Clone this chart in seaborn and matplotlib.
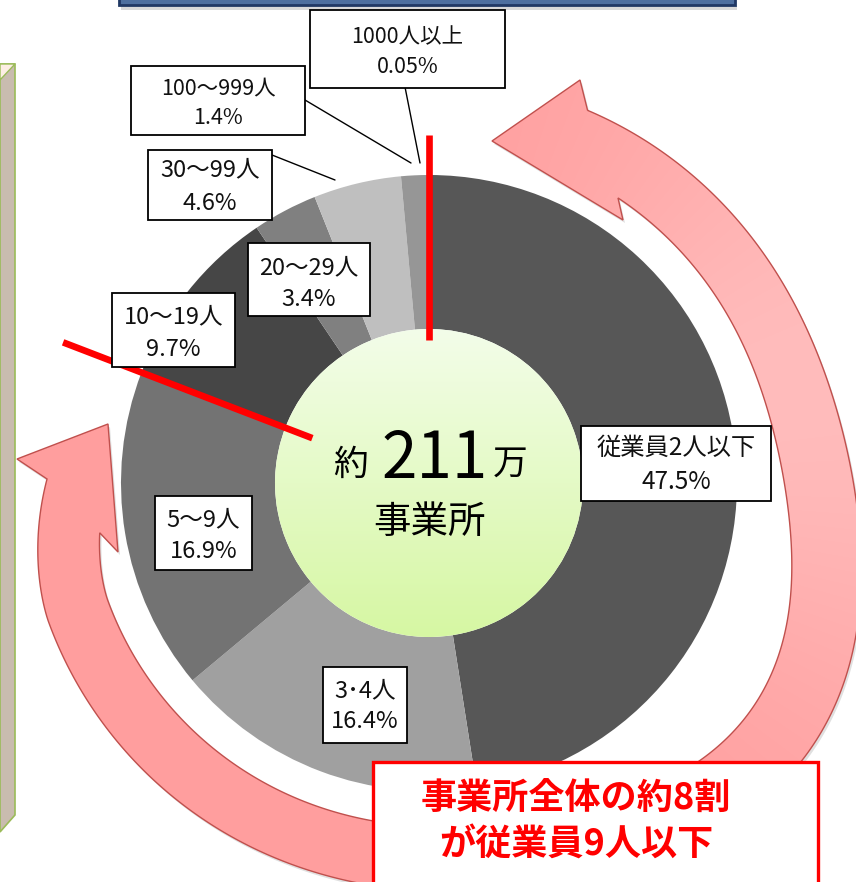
import numpy as np
import matplotlib
matplotlib.use('Agg')
import matplotlib.pyplot as plt
from matplotlib.patches import Rectangle, Circle, Polygon
from matplotlib.colors import to_rgb
import seaborn as sns

# data (clockwise from 12 o'clock)
categories = ['従業員2人以下', '3･4人', '5〜9人', '10〜19人', '20〜29人', '30〜99人', '100〜999人', '1000人以上']
shares = [47.5, 16.4, 16.9, 9.7, 3.4, 4.6, 1.4, 0.05]
share_text = ['47.5%', '16.4%', '16.9%', '9.7%', '3.4%', '4.6%', '1.4%', '0.05%']
total_text = '211'
n_small = 3   # the first three slices = 9人以下

greys = ['#575757', '#a0a0a0', '#737373', '#464646', '#808080', '#bfbfbf', '#969696', '#969696']

sns.set_theme(style='white')
plt.rcParams['font.family'] = ['Noto Sans CJK JP', 'DejaVu Sans']

W, H = 856, 882
CX, CY, R = 429, 483, 308

fig = plt.figure(figsize=(W / 100, H / 100), dpi=100)
ax = fig.add_axes([0, 0, 1, 1])


def pt(theta, r):
    # clockwise from top, y axis pointing down
    a = np.radians(theta)
    return CX + r * np.sin(a), CY - r * np.cos(a)


# ---- pink double arrow around the 9人以下 part ----
def r_outer(th):
    r = 405 + 60 * np.exp(-((th - 125) / 33) ** 2)
    return r - 23 * np.clip((th - 250) / 20.6, 0, 1) ** 1.5


def r_inner(th):
    r = 342 + 52 * np.exp(-((th - 125) / 30) ** 2)
    return r - 9 * np.clip((th - 250) / 11.4, 0, 1) ** 1.5


th_o = np.linspace(23.05, 270.6, 400)
th_i = np.linspace(261.4, 33.55, 400)
outer = [pt(t, r_outer(t)) for t in th_o]
inner = [pt(t, r_inner(t)) for t in th_i]
poly = outer + [(17, 459), (108, 424), (118, 552)] + inner + [(623, 220), (492, 141), (580, 80)]

shadow = Polygon([(x + 2, y + 3) for x, y in poly], closed=True, fc='#000000', alpha=0.12,
                 ec='none', zorder=0.8)
ax.add_patch(shadow)
clip = Polygon(poly, closed=True, fc='none', ec='none', transform=ax.transData)
ax.add_patch(clip)
yy, xx = np.mgrid[0:H, 0:W] + 0.5
ang = np.degrees(np.arctan2(xx - CX, CY - yy)) % 360
t = np.exp(-((ang - 75) / 45) ** 2)
dark, light = np.array(to_rgb('#ff9e9e')), np.array(to_rgb('#ffbcbc'))
im = ax.imshow(dark + t[..., None] * (light - dark), extent=(0, W, H, 0), origin='upper',
               zorder=1, interpolation='bilinear', aspect='auto')
im.set_clip_path(clip)
ax.add_patch(Polygon(poly, closed=True, fc='none', ec='#c0504d', lw=1.0, zorder=1.1))

# ---- donut ----
ax.pie(shares, colors=greys, startangle=270, counterclock=True, center=(CX, CY), radius=R,
       wedgeprops=dict(width=R / 2, edgecolor='none', linewidth=0), frame=True)

# green centre with vertical gradient
r2 = R / 2
g = np.linspace(0, 1, 256)[:, None, None]
top_c, bot_c = np.array(to_rgb('#f3fde9')), np.array(to_rgb('#d6f7a3'))
im2 = ax.imshow(top_c + g * (bot_c - top_c), extent=(CX - r2, CX + r2, CY + r2, CY - r2),
                origin='upper', zorder=3, interpolation='bilinear', aspect='auto')
circ = Circle((CX, CY), r2, fc='none', ec='none', transform=ax.transData)
ax.add_patch(circ)
im2.set_clip_path(circ)

# red separators: start of the pie and end of the 9人以下 group
frac = np.cumsum(shares) / np.sum(shares)
for theta, r_a, r_b in [(0.0, 143, 348), (360 * frac[n_small - 1], 125, 392)]:
    (x0, y0), (x1, y1) = pt(theta, r_a), pt(theta, r_b)
    ax.plot([x0, x1], [y0, y1], color='#ff0000', lw=4.8, solid_capstyle='butt', zorder=4)

# centre text
ax.text(351, 465, '約', fontsize=25, ha='center', va='center', color='black', zorder=5)
ax.text(435, 478, total_text, fontsize=46, ha='center', va='baseline', color='black', zorder=5)
ax.text(510, 464, '万', fontsize=25, ha='center', va='center', color='black', zorder=5)
ax.text(430, 522, '事業所', fontsize=27, ha='center', va='center', color='black', zorder=5)

# ---- label boxes (x0, y0, x1, y1), line y positions, font size ----
boxes = [(581, 426, 771, 501), (323, 667, 407, 743), (155, 496, 252, 570), (112, 293, 235, 367),
         (248, 243, 370, 316), (148, 150, 272, 220), (131, 66, 305, 135), (310, 10, 505, 88)]
lines_y = [(448, 482), (691, 722), (520, 552), (317, 349), (268, 300), (170, 203), (88, 118), (37, 67)]
sizes = [17.5, 17, 17, 17, 17, 17, 15.5, 15.5]
leaders = {6: [(305, 100), (411, 163)], 7: [(405, 87), (420, 163)], 5: [(272, 155), (335, 180)]}

for i, (cat, pct) in enumerate(zip(categories, share_text)):
    x0, y0, x1, y1 = boxes[i]
    ax.add_patch(Rectangle((x0, y0), x1 - x0, y1 - y0, fc='white', ec='black', lw=1.3, zorder=6))
    xc = (x0 + x1) / 2
    ax.text(xc, lines_y[i][0], cat, fontsize=sizes[i], ha='center', va='center', color='#111111', zorder=7)
    ax.text(xc, lines_y[i][1], pct, fontsize=sizes[i], ha='center', va='center', color='#111111', zorder=7)
    if i in leaders:
        (a, b), (c, d) = leaders[i]
        ax.plot([a, c], [b, d], color='black', lw=1.0, zorder=5)

# ---- callout box ----
ax.add_patch(Rectangle((373, 762), 445, 140, fc='white', ec='#ff0000', lw=2.4, zorder=8))
ax.text(576, 798, '事業所全体の約8割', fontsize=26, fontweight='bold', color='#ff0000',
        ha='center', va='center', zorder=9)
ax.text(576, 845, 'が従業員9人以下', fontsize=26, fontweight='bold', color='#ff0000',
        ha='center', va='center', zorder=9)

# ---- slide decorations cut off at the edges ----
ax.add_patch(Rectangle((121, 6), 616, 4, fc='#000000', alpha=0.15, ec='none', zorder=2))
ax.add_patch(Rectangle((119, -40), 616, 45, fc='#4e6f9f', ec='#203864', lw=2, zorder=3))
ax.add_patch(Polygon([(0, 64), (15, 64), (15, 815), (0, 832)], closed=True,
                     fc='#c9bcaf', ec='#9bbb59', lw=1.2, zorder=2))
ax.add_patch(Polygon([(0, 64), (15, 64), (0, 80)], closed=True, fc='#fdeee4', ec='#9bbb59',
                     lw=1.0, zorder=2.1))

ax.set_xlim(0, W)
ax.set_ylim(H, 0)
ax.set_aspect('auto')
ax.axis('off')

fig.savefig('out.png', dpi=100)
